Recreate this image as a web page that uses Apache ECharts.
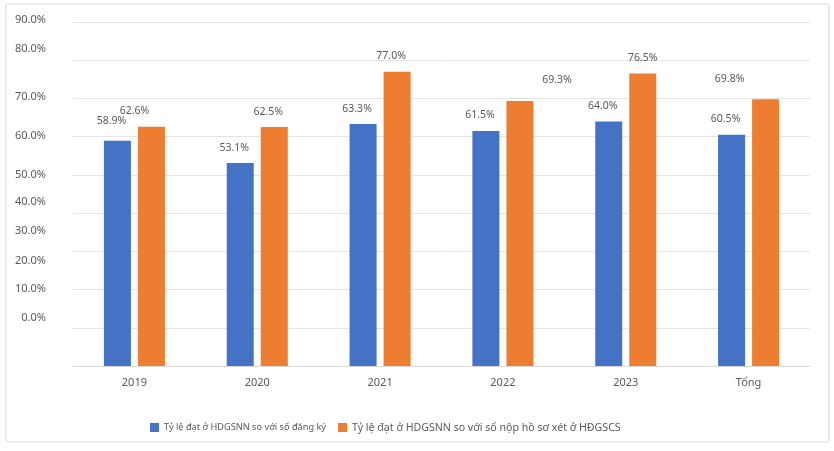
<!DOCTYPE html>
<html>
<head>
<meta charset="utf-8">
<script src="https://cdn.jsdelivr.net/npm/echarts@6/dist/echarts.min.js"></script>
<style>
  html, body { margin: 0; padding: 0; background: #fff; }
  #chart { width: 834px; height: 451px; }
</style>
</head>
<body>
<div id="chart"></div>
<script>
// du lieu bieu do
var categories = ["2019", "2020", "2021", "2022", "2023", "Tổng"];
var seriesNames = [
  "Tỷ lệ đạt ở HDGSNN so với số đăng ký",
  "Tỷ lệ đạt ở HDGSNN so với số nộp hồ sơ xét ở HĐGSCS"
];
var rateRegistered = [58.9, 53.1, 63.3, 61.5, 64.0, 60.5];
var rateSubmitted = [62.6, 62.5, 77.0, 69.3, 76.5, 69.8];
var yTicks = [0, 10, 20, 30, 40, 50, 60, 70, 80, 90];

// lech nhan (giong anh goc)
var yLabelLift = [48, 39, 29, 20, 11, 0, 1, 2, 11, 2];
var blueNudge = [[-6, -4], [-6, 0], [-6, 0], [-6, 0], [-6, 0], [-6, 0]];
var orangeNudge = [[-17, 0], [-6, 0], [-6, 0], [37, -6], [0, 0], [-36, -5]];

(function () {
  var myChart = echarts.init(document.getElementById("chart"));
  var font = "'Noto Sans', 'Open Sans', sans-serif";
  var gray = "#595959";

  var rich = {};
  for (var i = 0; i < yTicks.length; i++) {
    rich["l" + i] = {
      fontSize: 11,
      fontFamily: font,
      color: gray,
      padding: [0, 0, yLabelLift[i] * 2, 0]
    };
  }

  var toItems = function (values, nudge) {
    var res = [];
    for (var i = 0; i < values.length; i++) {
      res.push({ value: values[i], label: { offset: nudge[i] } });
    }
    return res;
  };

  var labelStyle = {
    show: true,
    position: "top",
    distance: 10,
    fontSize: 10.5,
    fontFamily: font,
    color: gray,
    formatter: function (p) {
      return p.value.toFixed(1) + "%";
    }
  };

  var option = {
    backgroundColor: "#fff",
    animation: false,
    graphic: [
      {
        type: "rect",
        shape: { x: 6, y: 4, width: 823, height: 438, r: 2 },
        style: { fill: "none", stroke: "#d9d9d9", lineWidth: 1 },
        silent: true
      }
    ],
    grid: { left: 73, right: 24, top: 22, bottom: 85 },
    legend: {
      left: 150,
      top: 422,
      padding: 0,
      itemWidth: 9,
      itemHeight: 9,
      itemGap: 12,
      icon: "rect",
      textStyle: { color: gray, fontFamily: font },
      data: [
        { name: seriesNames[0], textStyle: { fontSize: 9.2 } },
        { name: seriesNames[1], textStyle: { fontSize: 10.6 } }
      ]
    },
    xAxis: {
      type: "category",
      data: categories,
      axisLine: { lineStyle: { color: "#d9d9d9" } },
      axisTick: { show: false },
      axisLabel: { color: gray, fontSize: 11, fontFamily: font, margin: 11 }
    },
    yAxis: {
      type: "value",
      min: 0,
      max: 90,
      interval: 10,
      axisLine: { show: false },
      axisTick: { show: false },
      splitLine: { lineStyle: { color: "#e4e4e4" } },
      axisLabel: {
        margin: 27,
        formatter: function (v) {
          var idx = yTicks.indexOf(v);
          return "{l" + idx + "|" + v.toFixed(1) + "%}";
        },
        rich: rich
      }
    },
    series: [
      {
        name: seriesNames[0],
        type: "bar",
        barWidth: 27,
        barGap: "26%",
        itemStyle: { color: "#4472C4" },
        label: labelStyle,
        data: toItems(rateRegistered, blueNudge)
      },
      {
        name: seriesNames[1],
        type: "bar",
        barWidth: 27,
        itemStyle: { color: "#ED7D31" },
        label: labelStyle,
        data: toItems(rateSubmitted, orangeNudge)
      }
    ]
  };

  myChart.setOption(option);
  window.addEventListener("resize", function () {
    myChart.resize();
  });
})();
</script>
</body>
</html>
